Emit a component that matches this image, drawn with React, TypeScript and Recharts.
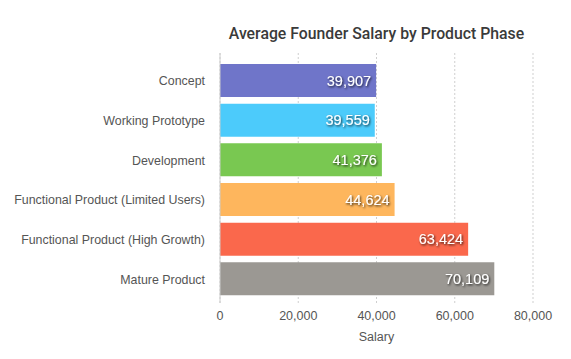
import React from "react";
import { Bar, BarChart, CartesianGrid, Cell, LabelList, XAxis, YAxis } from "recharts";

// phases, top to bottom
const phases = [
    "Concept",
    "Working Prototype",
    "Development",
    "Functional Product (Limited Users)",
    "Functional Product (High Growth)",
    "Mature Product"
];
const salaries = [39907, 39559, 41376, 44624, 63424, 70109];
const salaryTicks = [0, 20000, 40000, 60000, 80000];

const barColors = ["#6f75c9", "#4ccbfb", "#79c851", "#feb65d", "#fa684c", "#9b9893"];

const data = phases.map((name, i) => ({ name, salary: salaries[i] }));

const fmt = (v: number) => v.toLocaleString("en-US");

// plain tick so long phase names don't wrap
const PhaseTick = (props: any) => {
    const { x, y, payload } = props;
    return (
        <text x={x} y={y} dy="0.355em" textAnchor="end" fill="#555" fontSize={12.4}>
            {payload.value}
        </text>
    );
};

// white value with a dark drop shadow, right-aligned inside the bar
const ValueLabel = (props: any) => {
    const { x, y, width, height, value, index } = props;
    const id = `labelShadow${index}`;
    return (
        <g>
            <defs>
                <filter id={id} x="-20%" y="-50%" width="140%" height="200%">
                    <feDropShadow dx="1" dy="1.2" stdDeviation="1" floodColor="#000" floodOpacity="0.8" />
                </filter>
            </defs>
            <text
                x={x + width - 5}
                y={y + height / 2}
                dy="0.355em"
                textAnchor="end"
                fill="#fff"
                fontSize={14.5}
                filter={`url(#${id})`}
            >
                {fmt(Number(value))}
            </text>
        </g>
    );
};

export default function App() {
    return (
        <div style={{ position: "absolute", left: 0, top: 0, width: 571, height: 359, fontFamily: "'Liberation Sans', Arial, sans-serif" }}>
            <div
                style={{
                    position: "absolute",
                    left: 220,
                    width: 313,
                    top: 24,
                    textAlign: "center",
                    fontFamily: "Roboto, sans-serif",
                    fontSize: 15.8,
                    fontWeight: 500,
                    color: "#3a3a3a",
                    whiteSpace: "nowrap"
                }}
            >
                Average Founder Salary by Product Phase
            </div>
            <BarChart
                width={571}
                height={359}
                data={data}
                layout="vertical"
                margin={{ top: 53, right: 38, bottom: 16, left: 0 }}
            >
                <CartesianGrid horizontal={false} stroke="#cfcfcf" strokeDasharray="2 2" />
                <XAxis
                    type="number"
                    domain={[0, 80000]}
                    ticks={salaryTicks}
                    tickFormatter={fmt}
                    axisLine={false}
                    tickLine={false}
                    height={40}
                    tick={{ fill: "#555", fontSize: 12.5 }}
                    label={{ value: "Salary", position: "insideBottom", offset: 2, fill: "#555", fontSize: 12.5 }}
                />
                <YAxis
                    type="category"
                    dataKey="name"
                    width={220}
                    padding={{ top: 8, bottom: 4 }}
                    tickLine={false}
                    tickSize={0}
                    tickMargin={15}
                    axisLine={{ stroke: "#cccccc" }}
                    tick={<PhaseTick />}
                    interval={0}
                />
                <Bar dataKey="salary" barSize={33} isAnimationActive={false}>
                    {data.map((d, i) => (
                        <Cell key={d.name} fill={barColors[i]} />
                    ))}
                    <LabelList dataKey="salary" content={<ValueLabel />} />
                </Bar>
            </BarChart>
        </div>
    );
}
